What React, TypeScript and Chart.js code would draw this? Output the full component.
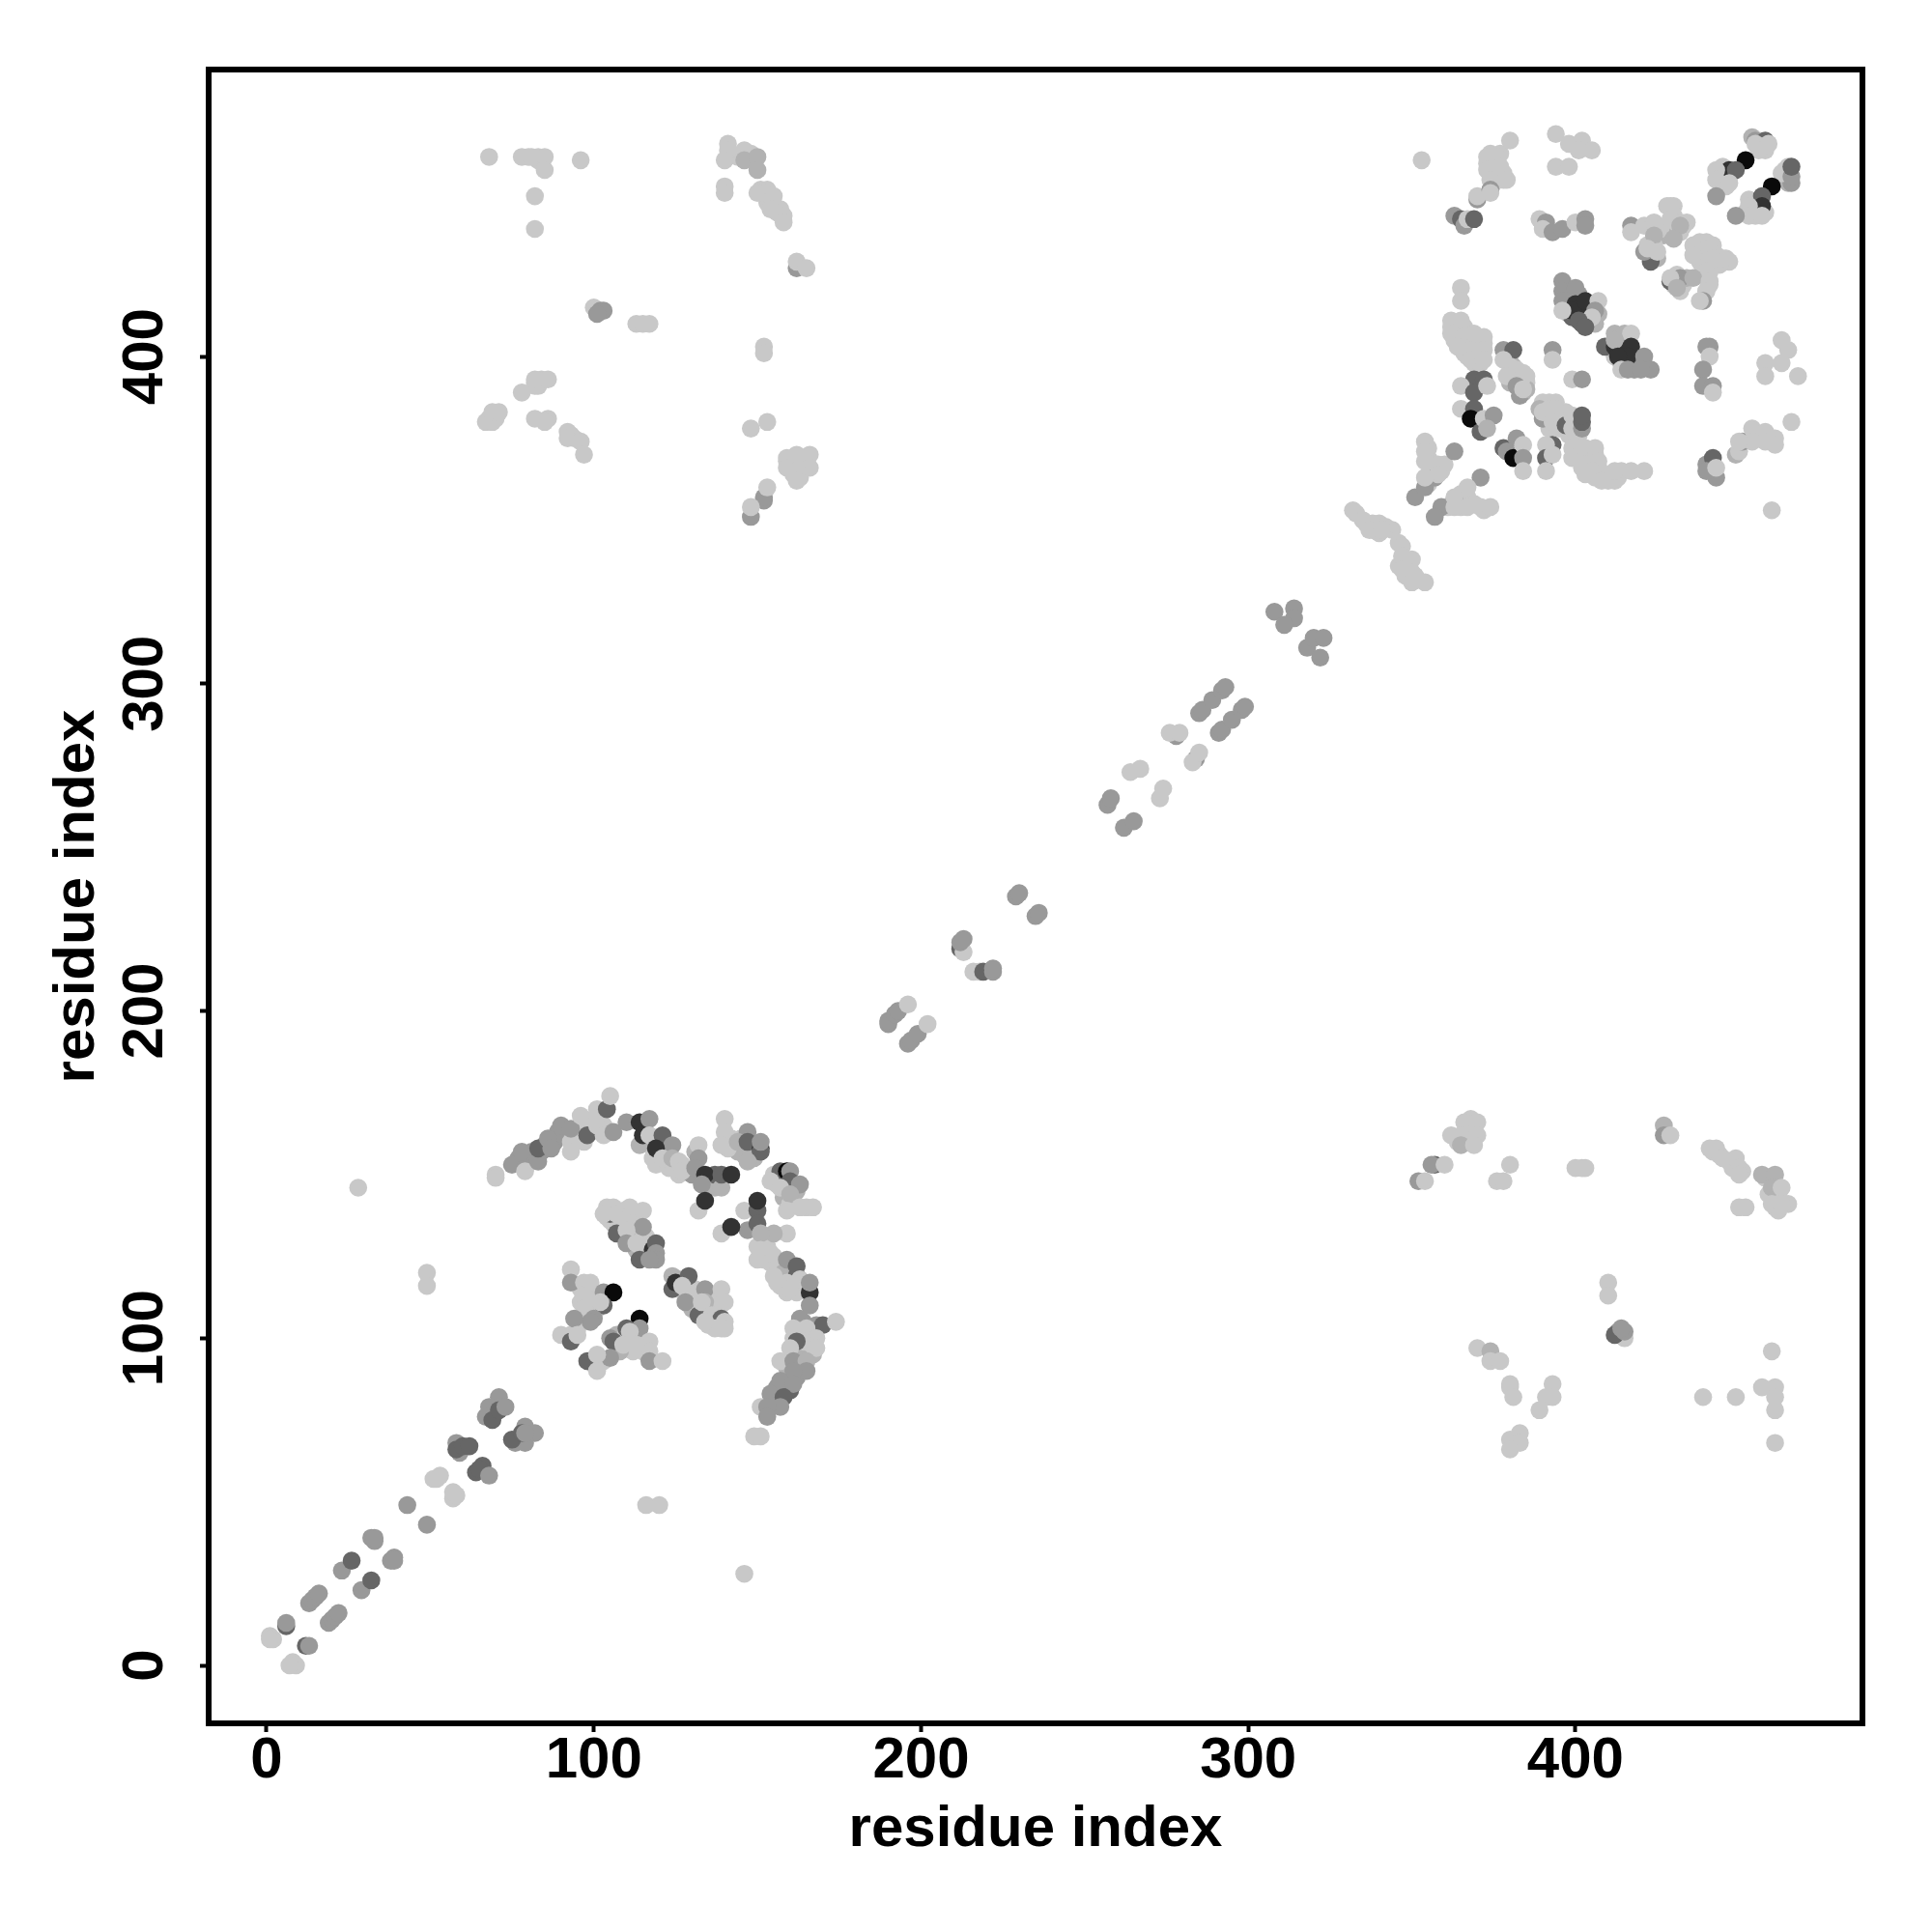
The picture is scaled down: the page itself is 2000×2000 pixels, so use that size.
import React, { useEffect, useRef } from "react";
import { Chart, registerables } from "chart.js";

Chart.register(...registerables);

// contact rows: [residue i, residue j, contact class 1 (weak) .. 6 (strongest)]
type Row = [number, number, number];

const arcFill: Row[] = [
  [77,155,3],[80,155,3],[81,157,3],[84,157,3],[85,159,3],[88,160,3],[89,163,3],[91,162,3],[93,160,1],[95,163,1],[96,165,1],[98,166,1],[100,167,1],[99,163,1],[102,168,1],[103,165,1],[104,163,1],
  [116,160,1],[118,158,1],[120,157,1],[119,153,1],[122,156,1],[123,154,1],[125,152,1],[127,153,1],[126,150,1],
  [131,157,2],[133,149,3],[130,150,3],[135,147,3],[137,146,2],[137,150,4],
  [144,157,2],[146,156,2],[148,158,2],[149,155,2],[145,161,1],[142,161,1],[141,158,1],
  [155,150,1],[156,147,1],[158,146,2],[158,149,4],[158,143,2],[161,142,1],[162,145,2],[160,141,1],[165,140,1],
  [152,129,1],[153,128,1],[152,124,1],[154,123,1],[156,123,1],[157,121,1],[155,125,1],[157,120,1],[153,126,1],[150,128,1],[156,117,1],[158,120,2],[160,118,2],[161,116,1],[162,119,4],[159,114,1],[162,114,1],[164,115,1],[157,116,1],
  [163,101,1],[165,101,1],[167,103,1],[168,104,3],[166,98,1],[165,96,1],[167,95,2],[163,96,1],[162,101,1],[164,105,3],[161,100,1],
  [163,91,3],[162,88,3],[160,88,3],[159,86,3],[156,85,3],[158,84,3],[155,81,3],[159,91,2],[163,94,2],[160,84,4],
  [104,137,1],[105,136,1],[107,136,1],[108,137,1],[109,139,1],[106,135,1],[110,138,1],[111,136,1],[112,135,1],[113,133,1],[109,134,2],[108,133,1],[112,131,1],[113,127,2],[116,131,1],[116,127,2],[113,131,1],[115,128,1],[110,131,2],
  [126,118,2],[129,116,1],[130,113,2],[128,113,1],[131,115,1],[132,113,1],[135,113,1],[137,112,1],[135,109,1],[137,110,1],[133,109,2],[130,109,2],[138,108,1],[136,105,1],[138,105,1],[132,110,1],[139,103,1],[135,104,1],
  [96,115,1],[98,115,1],[99,113,1],[100,112,1],[96,111,1],[99,110,1],[101,109,1],[98,107,1],[100,108,1],[102,113,1],[95,103,1],[93,101,1],[93,100,1],
  [107,101,2],[109,100,1],[111,100,1],[113,100,1],[115,98,1],[112,96,1],[110,97,1],[115,96,1],[108,96,2],[103,93,1],[100,92,1],
];

const bundleFill: Row[] = [
  [428,446,1],[430,446,1],[430,443,1],[432,441,1],[432,438,1],[430,438,2],[428,440,1],[427,437,2],[426,439,1],[433,440,1],[434,441,1],
  [436,434,1],[438,435,1],[440,435,1],[442,434,1],[438,431,1],[441,431,1],[443,431,1],[446,430,1],[447,429,1],[444,428,1],[438,429,1],[439,427,1],[441,426,1],[440,424,1],[441,422,1],[440,420,1],
  [431,425,1],[431,423,2],[433,422,1],[432,420,1],[434,424,2],[430,422,1],[422,434,1],[423,432,1],[424,434,1],[425,430,2],[423,431,2],
  [444,456,1],[445,454,1],[446,452,1],[447,455,1],[445,458,1],[453,448,1],[455,447,1],[454,445,1],[456,445,1],[458,444,1],[452,444,1],[455,443,1],
  [454,467,2],[456,466,1],[457,465,1],[458,463,1],[456,464,1],[464,457,1],[464,455,1],[465,453,2],[466,453,3],[463,456,1],
  [362,409,1],[363,405,1],[364,409,1],[366,409,1],[366,403,1],[370,403,1],[370,405,1],[370,400,1],[366,401,1],[367,400,1],[369,398,1],[371,398,1],[372,404,1],
  [380,400,1],[381,397,2],[382,396,1],[384,395,1],[385,394,1],[385,392,1],[383,392,2],[381,393,1],[380,392,2],[384,389,2],[383,388,3],[385,390,2],
  [374,462,1],[377,462,1],[373,459,1],[375,459,1],[378,456,1],[376,455,1],[375,453,1],[379,454,1],[374,456,1],
  [390,386,1],[392,386,1],[394,386,1],[389,384,2],[391,382,1],[393,382,1],[395,382,1],[392,378,1],[394,380,1],[396,381,1],[390,381,3],
  [397,383,1],[399,380,1],[401,377,1],[398,376,1],[401,376,1],
  [400,370,1],[401,372,1],[404,370,1],[404,368,1],[402,366,1],[406,370,1],[407,366,1],[409,364,1],[410,362,1],[406,363,1],[413,363,1],[414,365,1],[403,364,1],
  [355,372,1],[355,369,1],[356,367,1],[356,365,1],[359,365,1],[355,361,1],[364,355,1],[365,358,1],[367,357,1],[365,354,1],[369,355,1],[372,353,1],[361,354,1],
  [333,352,1],[336,349,1],[338,347,1],[340,349,1],[340,346,1],[344,347,1],[346,343,1],[347,337,1],[348,338,1],[349,336,1],[351,333,1],[348,333,1],[346,336,1],
  [397,421,3],[398,418,3],[401,419,3],[402,413,2],[404,415,4],[405,416,2],[403,412,3],[398,413,2],[407,413,2],[406,410,2],[401,414,5],[399,412,4],[402,410,4],
  [414,405,2],[415,407,2],[413,402,4],[412,400,1],[416,401,5],[418,398,3],[414,398,3],[418,396,3],
];

const farFill: Row[] = [
  [80,461,1],[83,460,1],[84,460,1],[83,461,1],[142,462,1],[144,461,1],[141,461,1],[147,461,1],[148,462,1],[153,447,1],[155,446,1],[156,444,1],[157,445,1],[154,448,1],[151,451,1],[153,451,1],
  [442,157,1],[444,156,1],[447,154,1],[448,152,1],[451,151,1],[449,153,1],[458,149,1],[459,144,1],[461,143,1],[462,144,1],[461,140,1],[462,139,1],[366,160,1],[367,160,1],[368,164,1],[364,160,1],[368,167,1],
  [82,392,1],[84,393,1],[83,391,1],[70,381,1],[68,381,1],[160,368,1],[163,368,1],[163,366,1],[164,369,1],[165,368,1],[159,368,1],[161,364,1],[163,363,1],[93,376,1],[94,375,1],
];

const diagonalLow: Row[] = [
  [1,9,1],[2,8,1],[1,8,1],[6,12,4],[6,13,3],[12,6,4],[13,6,3],[8,1,1],[9,0,1],[7,0,1],
  [13,19,3],[14,20,3],[15,21,3],[16,22,3],[19,13,3],[20,14,3],[21,15,3],[22,16,3],
  [23,29,3],[26,32,4],[29,23,3],[32,26,4],[32,39,3],[33,38,3],[33,39,3],[39,33,3],[38,32,3],[39,32,3],
  [43,49,3],[49,43,3],[51,57,1],[52,57,1],[53,58,1],[57,51,1],[58,52,1],[57,53,1],
  [58,68,3],[59,65,3],[58,66,4],[60,67,4],[62,67,4],[64,59,4],[66,61,4],[65,60,4],[68,58,3],
  [71,82,3],[68,79,3],[67,76,3],[69,75,4],[71,78,4],[73,79,3],
  [79,73,3],[82,71,3],[76,68,3],[79,68,3],[75,69,4],[78,71,4],[79,71,3],
];

const arcUpper: Row[] = [
  [70,150,1],[70,149,1],[75,153,3],[79,152,3],[79,151,1],[78,157,3],[83,154,3],[83,158,4],[86,161,3],[87,158,3],
  [90,165,3],[93,164,3],[93,157,1],[97,160,1],[96,168,1],[98,162,4],[101,165,1],[103,162,1],[101,170,1],[104,170,4],
  [105,174,1],[106,163,3],[110,166,3],[114,166,5],[117,167,3],[114,159,2],[115,162,5],[117,162,1],
  [121,162,4],[124,159,3],[118,155,1],[119,158,5],[123,152,1],[121,155,1],[124,155,2],[126,154,1],[127,151,1],
  [132,159,1],[132,155,3],[131,152,3],[134,150,5],[133,147,3],[139,146,2],[139,150,4],[142,150,5],[132,139,1],[134,142,5],
  [140,167,1],[140,163,1],[139,159,1],[147,163,3],[144,160,2],[147,160,4],[151,158,5],[151,157,4],[151,160,3],[147,154,2],
];

const arcRight: Row[] = [
  [157,151,4],[159,151,6],[160,151,3],[160,148,4],[163,147,3],[154,148,1],[157,146,1],[160,144,2],[159,139,1],[163,140,1],[167,140,1],
  [146,139,1],[150,139,4],[150,142,5],[147,133,3],[150,135,4],[139,132,1],[142,134,5],[159,132,1],[155,132,2],[151,132,2],
  [151,127,1],[154,126,1],[150,124,1],[159,124,3],[162,122,4],[155,119,1],[159,117,1],[160,115,1],[163,118,1],
  [166,114,5],[166,117,3],[166,110,3],[163,106,3],[161,103,1],[170,104,4],[174,105,1],[165,103,1],[168,100,1],[164,99,1],[162,99,4],[160,97,1],[168,97,1],
  [157,93,1],[161,93,3],[165,93,2],[165,90,3],[161,90,3],[157,87,3],[161,86,3],[154,83,3],[158,82,4],[157,79,3],[151,79,1],[153,79,3],[153,76,3],
  [149,70,1],[151,70,1],
];

const innerBundle: Row[] = [
  [105,138,4],[104,140,1],[103,138,1],[106,140,1],[111,140,1],[115,139,1],[107,138,1],[109,136,1],[115,134,3],[107,132,4],[110,133,1],
  [110,129,3],[113,129,1],[118,127,5],[119,129,4],[119,126,3],[119,124,3],[114,124,4],[117,124,3],
  [124,119,2],[124,115,4],[125,117,5],[129,119,4],[127,116,1],[134,115,3],[139,115,1],[134,111,2],[140,111,1],[128,111,3],[132,107,4],[133,111,1],[136,107,1],[139,106,4],[140,105,1],[137,103,1],[140,103,1],[134,105,1],
  [93,121,1],[93,117,3],[97,117,1],[99,117,1],[103,114,3],[106,114,6],[97,113,1],[103,110,4],[97,109,1],[102,111,1],[100,106,3],[99,105,3],[94,106,3],[90,101,1],[93,99,4],[95,101,1],
  [114,106,6],[114,103,3],[110,103,4],[111,102,1],[105,100,3],[106,99,4],[109,98,1],[117,99,1],[117,96,1],[113,98,1],[105,94,3],[98,93,4],[101,95,1],[101,90,1],[117,93,3],[121,93,1],
  [49,120,1],[49,116,1],[28,146,1],[116,49,1],[120,49,1],[146,28,1],
];

const diagonalMid: Row[] = [
  [190,196,3],[190,197,3],[192,199,3],[193,200,3],[196,202,1],[196,190,3],[197,191,3],[199,193,3],[202,196,1],
  [212,219,4],[213,218,1],[212,221,3],[213,222,3],[218,212,1],[216,212,1],[219,212,4],[222,212,3],[222,213,3],
  [229,235,3],[230,236,3],[235,229,3],[236,230,3],[257,263,3],[258,265,3],[262,256,3],[265,258,3],
  [264,273,1],[267,274,1],[273,265,1],[274,268,1],[278,284,3],[276,285,1],[279,285,1],[284,277,3],[283,276,1],[285,279,1],
  [285,291,3],[286,292,3],[289,295,3],[292,298,3],[293,299,3],[291,285,3],[292,286,3],[295,289,3],[298,292,3],[299,293,3],
  [308,322,3],[314,323,3],[314,320,3],[311,318,3],[318,311,3],[320,314,3],[323,314,3],[322,308,3],
];

const diagonalHigh: Row[] = [
  [332,353,1],[335,350,1],[338,349,1],[337,347,1],[342,348,1],[341,347,1],[347,342,1],[347,339,1],[347,335,1],[350,338,1],[350,334,1],[350,331,1],[354,331,1],
  [351,357,3],[354,360,3],[357,363,3],[354,374,1],[354,371,1],[354,368,1],[358,367,1],[360,367,1],[358,364,1],[354,363,1],[363,371,3],
  [371,363,3],[367,360,1],[363,356,3],[359,354,3],[357,351,3],[363,357,1],[363,354,1],[367,354,1],[371,354,1],[374,354,1],
];

const farUpperLeft: Row[] = [
  [68,461,1],[78,461,1],[81,461,1],[85,461,1],[85,457,1],[96,460,1],[82,449,1],[82,439,1],
  [141,465,1],[141,463,1],[140,460,1],[146,463,1],[146,460,2],[150,461,2],[150,457,2],[140,452,1],[140,450,1],[150,450,1],[152,450,1],[155,449,1],[154,445,1],[158,443,1],[158,441,1],
  [162,427,3],[162,429,1],[165,427,1],[100,415,1],[102,414,3],[103,414,3],[101,413,3],[113,410,1],[115,410,1],[117,410,1],[152,403,1],[152,401,1],
  [82,391,1],[82,393,1],[86,393,1],[78,389,1],[67,380,1],[69,380,1],[69,383,1],[71,383,1],[82,381,1],[86,381,1],[85,380,1],
  [92,377,1],[92,375,1],[96,374,1],[97,370,1],[148,378,1],[153,380,1],
  [159,369,1],[162,370,1],[166,370,1],[166,366,1],[159,366,1],[162,365,1],[162,362,1],
  [152,356,3],[152,357,3],[153,360,1],[148,351,3],[148,354,1],
];

const farLowerRight: Row[] = [
  [366,166,1],[370,166,1],[362,162,1],[365,162,1],[370,162,1],[365,159,2],[369,159,1],[357,153,4],[356,153,3],[360,153,1],
  [352,148,3],[354,148,1],[380,153,1],[376,148,1],[378,148,1],[400,152,1],[402,152,1],[403,152,1],
  [427,165,2],[427,162,3],[429,162,1],[441,158,1],[443,158,1],[445,155,1],[449,155,1],[450,152,1],[450,150,1],
  [457,150,2],[461,150,2],[460,146,2],[463,146,1],[460,141,1],[465,141,1],[463,141,1],[450,140,1],[452,140,1],
  [410,117,1],[410,113,1],[415,100,1],[413,102,3],[412,101,4],[415,102,3],[414,103,3],[370,97,1],[374,96,2],[374,93,1],[377,93,1],
  [380,86,1],[380,85,1],[381,82,1],[393,86,1],[391,82,1],[393,82,1],[389,78,1],
  [383,71,1],[380,69,1],[383,68,1],[380,66,1],[460,96,1],[439,82,1],[449,82,1],[457,85,1],[461,85,1],[461,82,1],[461,78,1],[461,68,1],
];

const bundleLeft: Row[] = [
  [353,460,1],[380,466,1],[394,468,1],[394,458,1],[398,458,1],[398,465,1],[402,466,1],[401,463,1],[405,463,1],
  [373,461,1],[376,461,1],[373,457,1],[377,458,1],[378,454,1],[374,454,1],[370,448,3],[370,449,1],[374,451,3],[374,450,1],
  [363,443,3],[365,442,4],[366,440,3],[367,442,1],[369,442,4],
  [365,421,1],[365,417,1],[362,411,1],[365,411,1],[362,407,1],[366,406,1],[369,407,1],[372,406,1],[364,403,1],[368,402,1],[372,402,1],[368,399,1],[372,399,1],
  [369,393,4],[365,391,1],[369,389,4],[372,393,4],[373,391,1],
  [365,384,1],[369,384,4],[368,381,6],[371,377,4],[372,381,1],[375,382,3],[373,378,2],
  [378,402,3],[381,402,4],[378,399,1],[380,397,1],[379,394,1],[384,394,1],[382,391,3],[384,390,1],
  [378,372,4],[382,375,3],[379,371,3],[381,369,6],[384,373,1],[384,369,3],[384,365,1],
  [393,402,3],[393,399,1],[399,393,1],[402,393,3],
  [390,383,1],[392,384,1],[394,384,1],[393,380,1],[395,378,1],[397,379,4],[399,382,1],[399,378,1],[402,378,3],[402,380,4],[402,382,4],
  [393,373,4],[391,373,1],[391,369,4],[393,370,1],[391,365,1],
];

const bundleCenter: Row[] = [
  [396,423,3],[396,420,3],[400,421,3],[396,417,3],[400,416,5],[399,414,5],[403,417,5],[407,417,1],[396,414,1],[406,414,3],[405,412,1],[401,411,4],[403,409,4],
  [412,407,2],[417,407,1],[409,403,4],[412,403,5],[412,405,2],[417,403,5],[416,400,5],[413,400,5],[421,400,3],[414,396,1],[416,396,3],[423,396,3],[420,396,3],
  [441,403,3],[440,403,3],[441,400,1],[439,396,3],[439,391,3],[442,391,3],[442,389,1],
  [463,405,1],[465,402,1],[463,398,1],[458,398,1],[458,394,1],[468,394,1],
  [399,372,1],[399,369,1],[403,372,1],[406,372,1],[403,367,1],[407,368,1],[405,365,1],[408,362,1],[412,362,1],[412,365,1],[417,365,1],[421,365,1],
  [440,367,3],[442,369,4],[443,363,3],[440,365,3],[443,366,1],
  [449,370,2],[450,371,1],[451,374,3],[454,378,1],[454,374,1],[458,377,1],[458,374,1],[461,375,1],[461,373,1],[450,374,1],[466,380,1],[460,353,1],
];

const bundleTop: Row[] = [
  [389,442,1],[391,441,3],[390,439,1],[393,438,3],[396,439,3],[400,441,1],[403,442,3],[403,440,3],
  [417,440,3],[417,438,1],[421,440,1],[424,441,1],[424,437,2],[429,446,1],[429,442,1],[432,440,2],[430,436,2],
  [423,429,4],[421,432,3],[422,433,1],[425,432,1],[440,433,1],[436,431,1],[445,430,1],[442,430,1],[440,426,1],
  [432,424,3],[429,423,4],[429,424,1],[431,421,2],[436,424,2],[441,423,1],[440,420,1],[439,417,3],[438,417,1],
  [455,466,3],[458,466,4],[456,463,1],[455,465,1],[459,465,1],[452,460,6],[447,457,5],[449,457,4],[443,457,1],[443,454,1],[447,453,1],[443,449,3],
  [460,452,6],[457,449,4],[457,446,5],[465,458,1],[466,455,3],[466,458,4],[453,446,1],[453,443,1],[457,443,1],[449,443,3],
];

const contactRegions: Row[][] = [
  arcFill, bundleFill, farFill,
  diagonalLow, arcUpper, arcRight, innerBundle, diagonalMid, diagonalHigh,
  farUpperLeft, farLowerRight, bundleLeft, bundleCenter, bundleTop,
];

const tickValues = [0, 100, 200, 300, 400];
const axisTitle = "residue index";
const shades = ["", "#c8c8c8", "#b2b2b2", "#999999", "#666666", "#333333", "#0a0a0a"];

const FONT = { family: "'Liberation Sans', Arial, sans-serif", weight: "bold" as const, size: 60 };

const frame = {
  id: "frame",
  afterDraw(chart: any) {
    const { ctx, chartArea: a } = chart;
    ctx.save();
    ctx.strokeStyle = "#000";
    ctx.lineWidth = 6;
    ctx.strokeRect(a.left, a.top, a.right - a.left, a.bottom - a.top);
    ctx.restore();
  },
};

export default function App() {
  const ref = useRef<HTMLCanvasElement>(null);
  useEffect(() => {
    const rows = contactRegions.flat();
    const chart = new Chart(ref.current as HTMLCanvasElement, {
      type: "scatter",
      data: {
        datasets: [
          {
            data: rows.map((r) => ({ x: r[0], y: r[1] })),
            pointRadius: 9.3,
            pointBorderWidth: 0,
            pointBackgroundColor: rows.map((r) => shades[r[2]]),
          },
        ],
      },
      plugins: [frame],
      options: {
        animation: false,
        responsive: false,
        devicePixelRatio: 1,
        layout: { padding: { top: 72, right: 72, left: 0, bottom: 0 } },
        plugins: { legend: { display: false }, tooltip: { enabled: false } },
        scales: {
          x: {
            type: "linear",
            min: -17.7,
            max: 487.7,
            afterBuildTicks: (s: any) => { s.ticks = tickValues.map((value) => ({ value })); },
            afterFit: (s: any) => { s.height = 216; },
            grid: { display: true, drawOnChartArea: false, drawTicks: true, tickLength: 9, tickWidth: 4, tickColor: "#000" },
            border: { display: false },
            ticks: { color: "#000", font: FONT, padding: -6, maxRotation: 0, minRotation: 0 },
            title: { display: true, text: axisTitle, color: "#000", font: FONT, padding: { top: 0, bottom: 70 } },
          },
          y: {
            type: "linear",
            min: -17.7,
            max: 487.7,
            afterBuildTicks: (s: any) => { s.ticks = tickValues.map((value) => ({ value })); },
            afterFit: (s: any) => { s.width = 216; },
            grid: { display: true, drawOnChartArea: false, drawTicks: true, tickLength: 9, tickWidth: 4, tickColor: "#000" },
            border: { display: false },
            ticks: { color: "#000", font: FONT, padding: 5, minRotation: 90, maxRotation: 90, crossAlign: "center" },
            title: { display: true, text: axisTitle, color: "#000", font: FONT, padding: { top: 44, bottom: 0 } },
          },
        },
      } as any,
    });
    return () => chart.destroy();
  }, []);
  return (
    <div style={{ position: "absolute", left: 0, top: 0, width: 2000, height: 2000 }}>
      <canvas ref={ref} width={2000} height={2000} style={{ display: "block" }} />
    </div>
  );
}
